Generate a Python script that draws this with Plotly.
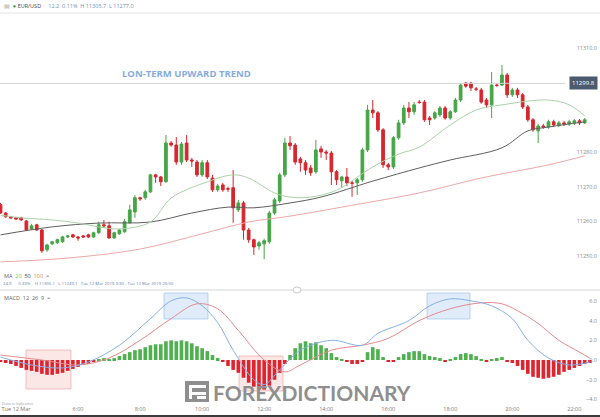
import pandas as pd
import plotly.graph_objects as go

# ---------------- data ----------------
open_ = [11264.8, 11262.4, 11261.3, 11261.0, 11261.0, 11260.1, 11257.8, 11259.0, 11257.5, 11251.8,
         11253.5, 11253.8, 11254.1, 11255.5, 11256.1, 11255.5, 11255.8, 11256.1, 11255.5, 11256.7,
         11259.0, 11258.7, 11255.2, 11256.4, 11257.0, 11259.6, 11262.7, 11266.8, 11266.8, 11268.5,
         11273.4, 11272.8, 11271.4, 11282.6, 11282.0, 11277.1, 11282.6, 11277.7, 11277.1, 11273.4,
         11276.9, 11272.5, 11269.1, 11270.5, 11269.4, 11269.7, 11263.3, 11265.3, 11257.5, 11254.7,
         11252.9, 11253.5, 11254.1, 11262.4, 11265.9, 11273.4, 11282.6, 11282.0, 11278.0, 11276.9,
         11275.4, 11274.3, 11280.9, 11280.0, 11279.7, 11274.3, 11271.7, 11272.8, 11271.1, 11271.1,
         11272.0, 11280.6, 11292.1, 11291.3, 11286.4, 11276.3, 11275.7, 11284.1, 11288.4, 11292.7,
         11291.6, 11294.4, 11294.4, 11289.8, 11289.8, 11290.7, 11292.7, 11289.8, 11291.6, 11295.0,
         11299.9, 11299.9, 11298.2, 11297.9, 11295.0, 11293.6, 11299.3, 11299.3, 11302.2, 11296.5,
         11297.9, 11296.5, 11293.0, 11289.3, 11286.1, 11287.5, 11287.2, 11288.7, 11287.8, 11288.4,
         11288.1, 11288.4, 11289.0, 11288.4]
high_ = [11265.3, 11262.7, 11261.6, 11261.3, 11261.3, 11260.4, 11259.3, 11259.3, 11257.8, 11253.5,
         11254.4, 11255.0, 11255.8, 11256.1, 11256.4, 11255.8, 11256.1, 11256.4, 11257.0, 11259.9,
         11260.4, 11259.9, 11257.0, 11257.8, 11260.7, 11264.8, 11267.6, 11267.1, 11269.1, 11273.7,
         11273.7, 11273.1, 11284.9, 11283.2, 11284.3, 11282.9, 11284.9, 11278.3, 11277.7, 11277.7,
         11277.7, 11273.4, 11270.8, 11271.1, 11270.0, 11274.8, 11266.2, 11265.9, 11258.1, 11255.0,
         11254.4, 11255.0, 11263.0, 11266.8, 11274.0, 11284.1, 11284.6, 11282.6, 11278.6, 11277.7,
         11276.3, 11283.5, 11281.8, 11280.6, 11280.3, 11274.8, 11273.1, 11275.4, 11271.7, 11272.5,
         11281.2, 11293.6, 11295.0, 11291.8, 11286.9, 11276.9, 11284.6, 11289.3, 11293.6, 11294.4,
         11294.4, 11295.0, 11295.0, 11290.4, 11291.8, 11293.3, 11293.3, 11292.1, 11295.6, 11299.9,
         11300.2, 11300.2, 11298.8, 11298.5, 11295.6, 11303.1, 11299.9, 11305.1, 11302.8, 11298.5,
         11298.5, 11297.0, 11293.6, 11289.8, 11288.1, 11288.1, 11289.3, 11289.3, 11289.0, 11289.0,
         11289.3, 11289.5, 11289.5, 11289.8]
low_ = [11262.2, 11261.0, 11260.7, 11260.4, 11260.1, 11257.3, 11257.5, 11257.3, 11250.9, 11251.2,
        11253.2, 11253.5, 11253.8, 11255.2, 11255.2, 11254.4, 11255.2, 11255.2, 11255.2, 11256.4,
        11258.1, 11255.0, 11255.0, 11256.1, 11256.7, 11259.3, 11261.0, 11265.9, 11266.2, 11268.2,
        11271.1, 11270.2, 11271.1, 11281.5, 11276.3, 11276.3, 11277.1, 11275.7, 11272.8, 11272.8,
        11272.2, 11268.5, 11268.5, 11268.5, 11268.5, 11259.6, 11262.7, 11254.7, 11253.8, 11250.3,
        11251.8, 11249.1, 11253.5, 11261.9, 11265.3, 11272.8, 11280.6, 11276.3, 11274.3, 11273.4,
        11273.1, 11273.7, 11278.3, 11277.7, 11270.5, 11270.5, 11269.7, 11270.2, 11267.1, 11267.6,
        11271.4, 11280.0, 11289.8, 11285.8, 11275.4, 11274.8, 11275.1, 11283.5, 11287.8, 11289.8,
        11290.7, 11293.9, 11288.7, 11287.8, 11289.3, 11290.1, 11289.3, 11289.3, 11291.3, 11294.4,
        11298.5, 11297.6, 11297.6, 11293.9, 11292.7, 11289.8, 11298.8, 11299.0, 11295.6, 11295.9,
        11295.6, 11292.4, 11288.7, 11285.8, 11282.6, 11286.7, 11286.7, 11287.2, 11287.2, 11287.5,
        11287.5, 11287.8, 11287.8, 11288.1]
close_ = [11262.4, 11261.3, 11261.0, 11260.7, 11260.4, 11257.5, 11258.7, 11257.5, 11251.5, 11253.2,
          11254.1, 11254.7, 11255.5, 11255.8, 11255.5, 11255.2, 11255.5, 11255.5, 11256.7, 11259.0,
          11258.7, 11255.2, 11256.7, 11257.5, 11259.9, 11263.3, 11266.8, 11266.5, 11268.5, 11273.4,
          11272.8, 11271.4, 11282.6, 11282.0, 11277.1, 11282.3, 11277.7, 11277.4, 11273.4, 11276.9,
          11272.8, 11269.1, 11270.2, 11269.1, 11269.3, 11263.9, 11265.3, 11257.5, 11254.7, 11252.6,
          11253.8, 11254.4, 11262.4, 11266.2, 11273.4, 11282.6, 11281.8, 11277.1, 11276.9, 11274.8,
          11274.0, 11280.6, 11280.0, 11279.7, 11274.3, 11272.0, 11272.8, 11271.1, 11271.0, 11272.0,
          11280.6, 11292.1, 11291.3, 11286.4, 11276.3, 11275.7, 11284.1, 11288.4, 11292.7, 11291.6,
          11293.6, 11294.3, 11289.3, 11289.3, 11291.3, 11292.7, 11289.8, 11291.6, 11295.0, 11299.3,
          11299.0, 11298.5, 11298.1, 11294.4, 11293.6, 11299.3, 11299.2, 11302.2, 11296.5, 11297.9,
          11296.5, 11293.0, 11289.3, 11286.4, 11287.5, 11287.2, 11288.7, 11287.8, 11288.4, 11288.1,
          11288.7, 11289.0, 11288.4, 11289.3]

# moving averages (bar index, value)
ma20_idx = [0, 4, 10, 15, 19, 23, 29, 33, 40, 45, 48, 53, 56, 60, 65, 72, 77, 81, 87, 92, 97, 106, 110, 113]
ma20_val = [11261.8, 11261.0, 11260.4, 11259.5, 11258.4, 11257.8, 11259.8, 11266.7, 11271.4, 11273.4,
            11272.5, 11268.2, 11267.0, 11267.0, 11269.0, 11275.7, 11279.4, 11281.4, 11287.8, 11292.1,
            11293.6, 11295.0, 11293.6, 11290.4]
ma50_idx = [0, 10, 19, 29, 37, 44, 49, 56, 62, 72, 81, 87, 97, 102, 106, 113]
ma50_val = [11256.1, 11258.4, 11259.5, 11259.8, 11262.4, 11264.1, 11263.9, 11265.3, 11267.0, 11271.6,
            11275.4, 11277.7, 11281.2, 11286.1, 11287.2, 11288.7]
ma100_idx = [0, 13, 27, 39, 48, 56, 66, 81, 93, 106, 113]
ma100_val = [11248.3, 11249.4, 11252.0, 11256.4, 11259.8, 11261.5, 11264.1, 11268.2, 11272.5, 11276.3, 11278.9]

# MACD (12, 26, 9)
macd_hist = [-0.2, -0.3, -0.4, -0.6, -0.8, -1.0, -1.1, -1.2, -1.4, -1.5,
             -1.5, -1.4, -1.3, -1.1, -0.9, -0.7, -0.5, -0.4, -0.2, 0.1,
             0.2, 0.1, 0.2, 0.4, 0.6, 0.8, 1.0, 1.1, 1.3, 1.5,
             1.6, 1.6, 1.9, 2.0, 1.9, 2.0, 1.9, 1.7, 1.4, 1.2,
             0.9, 0.5, 0.2, -0.2, -0.6, -1.0, -1.3, -1.8, -2.3, -2.7,
             -3.0, -3.0, -2.6, -2.0, -1.3, -0.4, 0.5, 1.2, 1.7, 1.9,
             1.7, 1.8, 1.5, 1.2, 0.7, 0.3, 0.1, -0.2, -0.4, -0.4,
             -0.1, 0.8, 1.3, 1.1, 0.3, -0.2, -0.1, 0.3, 0.6, 0.8,
             0.9, 0.9, 0.6, 0.4, 0.3, 0.2, -0.1, 0.1, 0.3, 0.6,
             0.7, 0.6, 0.4, 0.1, -0.2, 0.1, 0.2, 0.3, -0.1, -0.3,
             -0.6, -1.0, -1.4, -1.7, -1.8, -1.9, -1.8, -1.7, -1.5, -1.2,
             -1.0, -0.8, -0.6, -0.4, -0.3]
macd_idx = [0, 6, 12, 17, 23, 29, 33, 36, 39, 42, 45, 49, 51, 54, 58, 64, 70, 73, 79, 83, 87, 91, 95, 99, 102, 106, 110, 114]
macd_val = [0.3, -0.5, -0.8, -0.2, 1.5, 4.2, 6.0, 6.3, 5.5, 3.8, 1.0, -2.0, -2.5, -1.0, 1.0, 2.0, 1.5, 2.7, 4.0, 5.5,
            6.2, 6.0, 5.5, 4.2, 2.0, 0.2, -0.5, -0.2]
signal_idx = [0, 8, 15, 21, 27, 33, 38, 42, 46, 51, 55, 58, 64, 70, 75, 81, 87, 93, 97, 100, 104, 108, 112, 114]
signal_val = [0.5, 0.0, -0.5, 0.2, 2.0, 4.2, 5.7, 5.2, 3.0, 0.0, -1.2, -0.5, 1.0, 1.5, 2.2, 4.0, 5.2, 5.8, 5.7, 5.0,
              3.7, 2.0, 0.8, 0.2]

price_ticks = [11250, 11260, 11270, 11280, 11310]
macd_ticks = [-4, -2, 0, 2, 4, 6]
time_tick_vals = ["2019-03-12 04:00", "2019-03-12 06:00", "2019-03-12 08:00", "2019-03-12 10:00",
                  "2019-03-12 12:00", "2019-03-12 14:00", "2019-03-12 16:00", "2019-03-12 18:00",
                  "2019-03-12 20:00", "2019-03-12 22:00"]
time_tick_text = ["Tue 12 Mar", "6:00", "8:00", "10:00", "12:00", "14:00", "16:00", "18:00", "20:00", "22:00"]
last_price = 11299.8

# ---------------- figure ----------------
W, H = 600, 417
times = pd.date_range("2019-03-12 03:30", periods=120, freq="10min")
X_RANGE = ["2019-03-12 03:29:00", "2019-03-12 22:49:36"]

GREEN = "#46a546"
RED = "#d7262e"
FONT = "Open Sans"


def px(x):
    return x / W


def py(y):
    return 1 - y / H


fig = go.Figure()

fig.add_trace(go.Scatter(x=[times[i] for i in ma100_idx], y=ma100_val, mode="lines",
                         line=dict(color="#eba9a6", width=1, shape="spline"), xaxis="x", yaxis="y",
                         hoverinfo="skip", showlegend=False))
fig.add_trace(go.Scatter(x=[times[i] for i in ma50_idx], y=ma50_val, mode="lines",
                         line=dict(color="#5f5f5f", width=1, shape="spline"), xaxis="x", yaxis="y",
                         hoverinfo="skip", showlegend=False))
fig.add_trace(go.Scatter(x=[times[i] for i in ma20_idx], y=ma20_val, mode="lines",
                         line=dict(color="#a9d3a4", width=1, shape="spline"), xaxis="x", yaxis="y",
                         hoverinfo="skip", showlegend=False))

fig.add_trace(go.Candlestick(
    x=times[:len(close_)], open=open_, high=high_, low=low_, close=close_,
    increasing=dict(line=dict(color=GREEN, width=1), fillcolor=GREEN),
    decreasing=dict(line=dict(color=RED, width=1), fillcolor=RED),
    whiskerwidth=0, xaxis="x", yaxis="y", hoverinfo="skip", showlegend=False))

hist_colors = ["#4fb04f" if v >= 0 else "#e0242f" for v in macd_hist]
fig.add_trace(go.Bar(x=times[:len(macd_hist)], y=macd_hist, marker=dict(color=hist_colors, line=dict(width=0)),
                     xaxis="x2", yaxis="y2", hoverinfo="skip", showlegend=False))
fig.add_trace(go.Scatter(x=[times[i] for i in signal_idx], y=signal_val, mode="lines",
                         line=dict(color="#e58a8c", width=1, shape="spline"), xaxis="x2", yaxis="y2",
                         hoverinfo="skip", showlegend=False))
fig.add_trace(go.Scatter(x=[times[i] for i in macd_idx], y=macd_val, mode="lines",
                         line=dict(color="#86b0e6", width=1, shape="spline"), xaxis="x2", yaxis="y2",
                         hoverinfo="skip", showlegend=False))

shapes = []
# header separator
shapes.append(dict(type="line", xref="paper", yref="paper", x0=0, x1=1, y0=py(13), y1=py(13),
                   line=dict(color="#e4e4e4", width=1)))
# last price line
shapes.append(dict(type="line", xref="paper", yref="y", x0=0, x1=px(565), y0=last_price, y1=last_price,
                   line=dict(color="#d2d2d2", width=1)))
# pane separator
shapes.append(dict(type="line", xref="paper", yref="paper", x0=0, x1=1, y0=py(290), y1=py(290),
                   line=dict(color="#d6d6d6", width=1)))
shapes.append(dict(type="circle", xref="paper", yref="paper", x0=px(293), x1=px(301), y0=py(293), y1=py(287),
                   fillcolor="white", line=dict(color="#c8c8c8", width=1)))
# highlighted MACD zones
for (x0, x1, y0, y1, fill, edge) in [
    (26, 71, 350, 389, "rgba(244,170,170,0.28)", "rgba(232,150,150,0.7)"),
    (239, 283, 356, 391, "rgba(244,170,170,0.28)", "rgba(232,150,150,0.7)"),
    (164, 208, 293, 319, "rgba(160,195,240,0.32)", "rgba(140,180,235,0.7)"),
    (427, 470, 293, 319, "rgba(160,195,240,0.32)", "rgba(140,180,235,0.7)"),
]:
    shapes.append(dict(type="rect", xref="paper", yref="paper", x0=px(x0), x1=px(x1), y0=py(y1), y1=py(y0),
                       fillcolor=fill, line=dict(color=edge, width=0.8), layer="below"))
# watermark logo
shapes.append(dict(type="rect", xref="paper", yref="paper", x0=px(185), x1=px(209), y0=py(402), y1=py(381),
                   fillcolor="#8f8f8f", line=dict(width=0)))
for (x0, x1, y0, y1) in [(189, 206, 385, 388), (189, 206, 392, 395), (189, 192, 385, 399), (197, 206, 396, 399)]:
    shapes.append(dict(type="rect", xref="paper", yref="paper", x0=px(x0), x1=px(x1), y0=py(y1), y1=py(y0),
                       fillcolor="white", line=dict(width=0)))
# bottom dark edge
shapes.append(dict(type="rect", xref="paper", yref="paper", x0=0, x1=1, y0=0, y1=py(415),
                   fillcolor="#3b3b3b", line=dict(width=0)))

ann = []


def text(x, y, s, size=6, color="#666", anchor="left", bold=False, family=FONT):
    ann.append(dict(xref="paper", yref="paper", x=px(x), y=py(y), text=("<b>%s</b>" % s) if bold else s,
                    showarrow=False, xanchor=anchor, yanchor="middle",
                    font=dict(size=size, color=color, family=family)))


text(2, 6, "<span style='color:#aaa'>▤</span>  <span style='color:#3a9a3a'>●</span> <span style='color:#444'>EUR/USD</span>"
     " <span style='color:#999'>·</span>   <span style='color:#7190b8'>12.2  0.11%  H 11305.7  L 11277.0</span>", size=5.5)
text(120, 73, "LON-TERM UPWARD TREND", size=9.5, color="#86acdc", bold=True)
text(2, 276, "MA  <span style='color:#6cbf6c'>20</span>  <span style='color:#444'>50</span>  "
     "<span style='color:#e48a6a'>100</span>  ≡", size=5.5, color="#666")
text(1, 283, "24.9      0.33%    H 11305.1   L 11249.1   Tue 12 Mar 2019 3:30 - Tue 12 Mar 2019 23:50",
     size=4.3, color="#5b80b0")
text(2, 298, "MACD  12  26  9  ≡", size=5.5, color="#666")
text(0, 403, "Data is Indicative", size=4, color="#999")
text(211, 392, "FOREXDICTIONARY", size=21, color="#8f8f8f", bold=True, family="Lato")
ann.append(dict(xref="paper", yref="y", x=px(598), y=last_price, text="11299.8", showarrow=False,
                xanchor="right", yanchor="middle", bgcolor="#4b5a6e", borderpad=2,
                font=dict(size=6, color="white", family=FONT)))

fig.update_layout(
    width=W, height=H, margin=dict(l=0, r=0, t=0, b=0),
    paper_bgcolor="white", plot_bgcolor="white", hovermode=False,
    bargap=0.3, boxgap=0.25, showlegend=False,
    font=dict(family=FONT, size=6, color="#777"),
    xaxis=dict(domain=[0, 1], range=X_RANGE, anchor="y", showticklabels=False, showgrid=False,
               zeroline=False, showline=False, ticks="", rangeslider=dict(visible=False)),
    xaxis2=dict(domain=[0, 1], range=X_RANGE, anchor="y2", showgrid=False, zeroline=False, showline=False,
                ticks="", tickvals=time_tick_vals, ticktext=time_tick_text,
                tickfont=dict(size=5.5, color="#777", family=FONT)),
    yaxis=dict(domain=[py(268), py(15)], range=[11246.54, 11319.52], side="right", ticklabelposition="inside",
               tickvals=price_ticks, tickformat=".1f", showgrid=False, zeroline=False, showline=False,
               ticks="", tickfont=dict(size=5.5, color="#888", family=FONT)),
    yaxis2=dict(domain=[py(404), py(291)], range=[-4.46, 7.0], side="right", ticklabelposition="inside",
                tickvals=macd_ticks, tickformat=".1f", showgrid=False, zeroline=False, showline=False,
                ticks="", tickfont=dict(size=5.5, color="#888", family=FONT)),
    shapes=shapes, annotations=ann,
)

fig.write_html("out.html", config={"displayModeBar": False},
               post_script="document.body.style.margin='0';document.body.style.padding='0';")
